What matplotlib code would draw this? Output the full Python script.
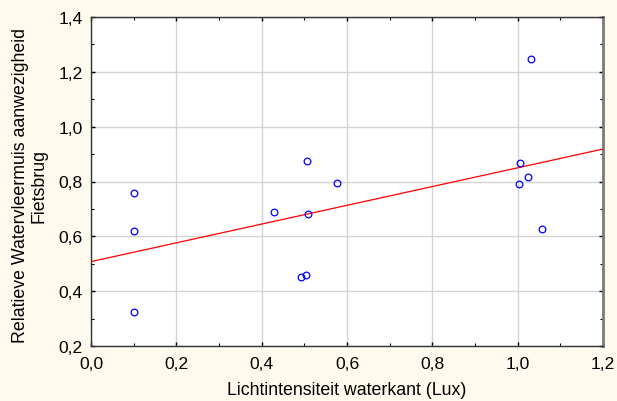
import numpy as np
import matplotlib
matplotlib.use("Agg")
import matplotlib.pyplot as plt
from matplotlib.ticker import MultipleLocator, FuncFormatter

licht = [0.10, 0.10, 0.10, 0.429, 0.507, 0.509, 0.493, 0.505, 0.577,
         1.005, 1.004, 1.024, 1.031, 1.058]
aanwezig = [0.757, 0.621, 0.325, 0.687, 0.875, 0.683, 0.451, 0.458, 0.794,
            0.868, 0.790, 0.816, 1.245, 0.628]
x_ticks = [0.0, 0.2, 0.4, 0.6, 0.8, 1.0, 1.2]
y_ticks = [0.2, 0.4, 0.6, 0.8, 1.0, 1.2, 1.4]
xlabel = "Lichtintensiteit waterkant (Lux)"
ylabel = "Relatieve Watervleermuis aanwezigheid\nFietsbrug"

plt.rcParams['font.family'] = ['Liberation Sans', 'DejaVu Sans']
tick_fs, lab_fs, ls = 12.6, 12.8, 1.1

bg = '#FFF9EE'
W, H = 617, 402
L, R, T, B = 91, 603, 18, 347
fig = plt.figure(figsize=(W/100, H/100), dpi=100, facecolor=bg)
ax = fig.add_axes([L/W, 1-B/H, (R-L)/W, (B-T)/H])
ax.set_facecolor('white')

slope, icpt = np.polyfit(licht, aanwezig, 1)
xl = np.array([x_ticks[0], x_ticks[-1]])
ax.plot(xl, icpt + slope*xl, color='red', lw=0.9, zorder=3)
ax.plot(licht, aanwezig, 'o', mfc='none', mec='blue', mew=0.9, ms=4.8, zorder=4)

ax.set_xlim(x_ticks[0], x_ticks[-1])
ax.set_ylim(y_ticks[0], y_ticks[-1])
ax.set_xticks(x_ticks)
ax.set_yticks(y_ticks)
ax.xaxis.set_minor_locator(MultipleLocator(0.1))
ax.yaxis.set_minor_locator(MultipleLocator(0.1))
fmt = FuncFormatter(lambda v, p: f"{v:.1f}".replace('.', ','))
ax.xaxis.set_major_formatter(fmt)
ax.yaxis.set_major_formatter(fmt)
ax.tick_params(which='both', direction='in', labelsize=tick_fs, colors='black',
               top=True, right=True)
ax.tick_params(which='major', length=3, width=1)
ax.tick_params(axis='x', which='major', pad=7)
ax.tick_params(axis='y', which='major', pad=6)
ax.tick_params(which='minor', length=2, width=0.8)
ax.grid(True, which='major', color='#D4D4D4', lw=1)
ax.set_axisbelow(True)

for s in ['left', 'bottom', 'top']:
    ax.spines[s].set_color('#333333')
    ax.spines[s].set_linewidth(1)
ax.spines['right'].set_color('#7A7A7A')
ax.spines['right'].set_linewidth(2)

ax.set_xlabel(xlabel, fontsize=lab_fs)
ax.xaxis.label.set_va('center')
ax.xaxis.set_label_coords(0.5, (B-391)/(B-T))
ax.set_ylabel(ylabel, fontsize=lab_fs, linespacing=ls)
ax.yaxis.label.set_va('center')
ax.yaxis.set_label_coords((30-L)/(R-L), 0.49)

fig.savefig('out.png', dpi=100, facecolor=bg)
